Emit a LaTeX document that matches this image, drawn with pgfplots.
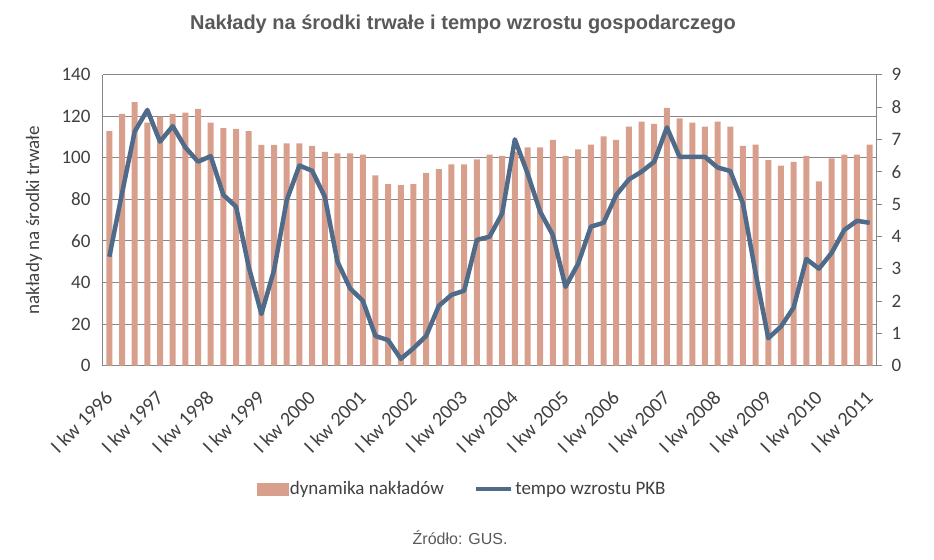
\documentclass[border=0pt]{standalone}
\usepackage{fontspec}
\setmainfont{Carlito}
\newfontfamily\arial{Liberation Sans}
\usepackage{pgfplots}
\usepackage{pgfplotstable}
\pgfplotsset{compat=1.18}
\definecolor{barcol}{RGB}{216,160,140}
\definecolor{gdpcol}{RGB}{80,106,138}
\definecolor{gridcol}{RGB}{134,134,134}
\definecolor{txtcol}{RGB}{64,64,64}
\definecolor{titlecol}{RGB}{89,89,89}

% q = quarter index from I kw 1996, bar = dynamika nakladow, gdp = tempo wzrostu PKB
\pgfplotstableread{
q bar gdp
0 112.9 3.37
1 121.1 5.33
2 126.8 7.24
3 116.9 7.91
4 119.8 6.93
5 121.1 7.41
6 121.7 6.75
7 123.5 6.31
8 116.9 6.48
9 114.3 5.28
10 113.9 4.92
11 112.9 3.06
12 106.2 1.60
13 106.2 2.96
14 107.0 5.12
15 107.0 6.19
16 105.7 6.03
17 102.9 5.23
18 102.1 3.22
19 102.1 2.39
20 101.5 2.01
21 91.6 0.92
22 87.4 0.79
23 86.9 0.21
24 87.4 0.54
25 92.8 0.92
26 94.6 1.85
27 96.9 2.19
28 96.9 2.32
29 99.3 3.89
30 101.5 3.99
31 100.9 4.71
32 103.0 7.00
33 105.0 5.95
34 105.0 4.76
35 108.6 4.04
36 100.9 2.44
37 104.1 3.16
38 106.3 4.30
39 110.3 4.42
40 108.6 5.28
41 115.0 5.76
42 117.4 6.00
43 116.3 6.31
44 124.0 7.37
45 119.0 6.46
46 116.9 6.46
47 115.0 6.46
48 117.4 6.13
49 115.0 6.02
50 105.7 5.02
51 106.3 2.86
52 98.9 0.85
53 96.2 1.21
54 98.1 1.80
55 100.9 3.30
56 88.7 3.00
57 99.7 3.49
58 101.5 4.20
59 101.5 4.48
60 106.3 4.42
}\data

\begin{document}
\begin{tikzpicture}
\useasboundingbox (-103bp,-194.3bp) rectangle (831bp,365.7bp);
\pgfplotsset{
  common/.style={
    scale only axis, width=773bp, height=291bp,
    xmin=-0.5, xmax=60.5,
    /pgf/number format/assume math mode=true,
    tick label style={font=\fontsize{19bp}{22bp}\selectfont, text=txtcol},
    axis line style={gridcol, line width=1bp},
  }
}
\begin{axis}[common, clip=false,
  ymin=0, ymax=140, ytick={0,20,...,140},
  axis x line*=bottom, axis y line*=left,
  ymajorgrids, grid style={gridcol, line width=1bp},
  major tick length=0pt,
  xtick={0,4,...,60},
  xticklabels={I kw 1996,I kw 1997,I kw 1998,I kw 1999,I kw 2000,I kw 2001,I kw 2002,I kw 2003,I kw 2004,I kw 2005,I kw 2006,I kw 2007,I kw 2008,I kw 2009,I kw 2010,I kw 2011},
  xticklabel style={font=\fontsize{20bp}{23bp}\selectfont,
    yshift=-26bp, xshift=2bp, rotate=45, anchor=east},
  yticklabel style={xshift=-9bp},
  ylabel={nakłady na środki trwałe},
  ylabel style={at={(axis description cs:-0.0893,0.5)}, anchor=center,
    font=\fontsize{19bp}{22bp}\selectfont, text=txtcol},
  title={Nakłady na środki trwałe i tempo wzrostu gospodarczego},
  title style={at={(axis description cs:0.4657,1.1536)}, anchor=center,
    font=\arial\bfseries\fontsize{20bp}{24bp}\selectfont, text=titlecol},
  ybar, bar width=6bp,
]
\addplot[fill=barcol, draw=none] table[x=q, y=bar]{\data};
\node[font=\arial\fontsize{16bp}{19bp}\selectfont, text=titlecol]
  at (axis description cs:0.462,-0.592) {Źródło: GUS.};
\end{axis}
\begin{axis}[common,
  ymin=0, ymax=9, ytick={0,1,...,9},
  axis y line*=right, axis x line=none,
  tick align=outside, major tick length=6bp,
  ytick style={gridcol, line width=1bp},
  yticklabel style={xshift=6bp},
  legend columns=2,
  legend style={at={(axis description cs:0.4645,-0.4237)}, anchor=center,
    draw=none, fill=none, font=\fontsize{19bp}{22bp}\selectfont, text=txtcol,
    /tikz/every even column/.append style={column sep=28bp}},
]
\addlegendimage{legend image code/.code={\fill[barcol] (0bp,-6bp) rectangle (31bp,6bp);}}
\addlegendentry{dynamika nakładów}
\addplot[gdpcol, line width=4.5bp, line join=round,
  legend image code/.code={\draw[gdpcol, line width=4.5bp] (0bp,0bp) -- (35bp,0bp);}]
  table[x=q, y=gdp]{\data};
\addlegendentry{tempo wzrostu PKB}
\end{axis}
\end{tikzpicture}
\end{document}
